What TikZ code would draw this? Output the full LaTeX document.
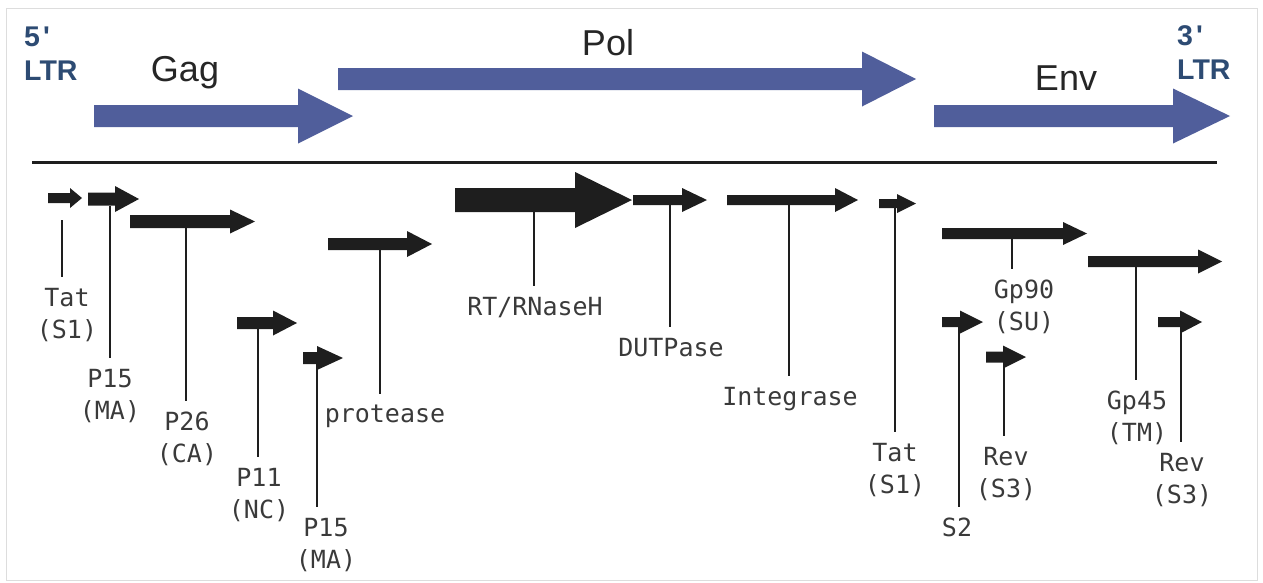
\documentclass[tikz,border=0pt]{standalone}
\usepackage{fontspec}
\setmainfont{Liberation Sans}
\newfontfamily\ltrfont{Liberation Sans}
\newfontfamily\labelfont{DejaVu Sans Mono}
\definecolor{genblue}{HTML}{505E9B}
\definecolor{ltrblue}{HTML}{2D4B73}
\definecolor{labgray}{HTML}{3A3A3A}
\definecolor{framegray}{HTML}{DDDDDD}
\definecolor{orfblack}{HTML}{1E1E1E}

\begin{document}
\begin{tikzpicture}[x=1pt,y=1pt,yscale=-1,xscale=1,
    genelabel/.style={anchor=north,inner xsep=0pt,inner ysep=11pt,align=center,text=labgray,font=\labelfont\fontsize{25}{32}\selectfont},
    leader/.style={line width=1.8,draw=orfblack},
    orf/.style={fill=orfblack},
    region/.style={fill=genblue},
    regname/.style={anchor=base,inner sep=0pt,text=black!85,font=\fontsize{36}{40}\selectfont},
    ltr/.style={anchor=north west,inner sep=0pt,align=left,text=ltrblue,font=\ltrfont\bfseries\fontsize{28.5}{34}\selectfont}]
    \useasboundingbox (0,0) rectangle (1263,582);
    \draw [framegray, line width=1]   (6,8) rectangle (1257,580) ;

    % gag / pol / env regions
    \fill [region]   (94,105) -- (298,105) -- (298,88.5) -- (353,116) -- (298,143.5) -- (298,127) -- (94,127) -- cycle ;
    \fill [region]   (338,68) -- (862,68) -- (862,51.5) -- (916,79) -- (862,106.5) -- (862,90) -- (338,90) -- cycle ;
    \fill [region]   (934,105) -- (1173,105) -- (1173,88.5) -- (1230,116) -- (1173,143.5) -- (1173,127) -- (934,127) -- cycle ;
    \node [regname] (gagname) at (185,81.5) {Gag};
    \node [regname] (polname) at (608,55) {Pol};
    \node [regname] (envname) at (1066,90.5) {Env};
    \node [ltr] (ltrleft) at (24,27) {5\hspace{3pt}'\\LTR};
    \node [ltr] (ltrright) at (1177,25) {3\hspace{3pt}'\\LTR};

    \draw [line width=3, orfblack]   (32,162) -- (1217,162) ;

    % gag products
    \fill [orf]   (48,193) -- (70,193) -- (70,188) -- (82,198) -- (70,208) -- (70,203) -- (48,203) -- cycle ;
    \fill [orf]   (88,192.5) -- (115,192.5) -- (115,186) -- (139,199) -- (115,212) -- (115,205.5) -- (88,205.5) -- cycle ;
    \fill [orf]   (130,215) -- (230,215) -- (230,209.5) -- (255,221.5) -- (230,233.5) -- (230,228) -- (130,228) -- cycle ;
    \fill [orf]   (237,317) -- (273,317) -- (273,310.5) -- (297,323) -- (273,335.5) -- (273,329) -- (237,329) -- cycle ;
    \fill [orf]   (303,352) -- (317,352) -- (317,346) -- (343,358) -- (317,370) -- (317,364) -- (303,364) -- cycle ;
    \fill [orf]   (328,238) -- (407,238) -- (407,231) -- (432,244) -- (407,257) -- (407,250) -- (328,250) -- cycle ;
    % pol products
    \fill [orf]   (455,188) -- (575,188) -- (575,172) -- (632,200) -- (575,228) -- (575,212) -- (455,212) -- cycle ;
    \fill [orf]   (633,195) -- (682,195) -- (682,188) -- (707,200) -- (682,212) -- (682,205) -- (633,205) -- cycle ;
    \fill [orf]   (727,195) -- (835,195) -- (835,188) -- (858,200) -- (835,212) -- (835,205) -- (727,205) -- cycle ;
    % env and accessory products
    \fill [orf]   (879,199) -- (897,199) -- (897,194) -- (916,203.5) -- (897,213) -- (897,208) -- (879,208) -- cycle ;
    \fill [orf]   (942,228) -- (1063,228) -- (1063,222) -- (1087,233.5) -- (1063,245) -- (1063,239) -- (942,239) -- cycle ;
    \fill [orf]   (1088,256) -- (1198,256) -- (1198,249.5) -- (1222,261.5) -- (1198,273.5) -- (1198,267) -- (1088,267) -- cycle ;
    \fill [orf]   (942,317) -- (960,317) -- (960,310.5) -- (983,322) -- (960,333.5) -- (960,327) -- (942,327) -- cycle ;
    \fill [orf]   (986,351.5) -- (1003,351.5) -- (1003,345.5) -- (1026,357) -- (1003,368.5) -- (1003,362.5) -- (986,362.5) -- cycle ;
    \fill [orf]   (1158,317) -- (1180,317) -- (1180,310.5) -- (1202,322) -- (1180,333.5) -- (1180,327) -- (1158,327) -- cycle ;

    % leader feet
    \coordinate (tatA) at (62,220);
    \coordinate (maA) at (110,205.5);
    \coordinate (ca) at (186,228);
    \coordinate (nc) at (258,329);
    \coordinate (maB) at (317,364);
    \coordinate (pr) at (380,250);
    \coordinate (rt) at (534,212);
    \coordinate (dut) at (670,205);
    \coordinate (in) at (789,205);
    \coordinate (tatB) at (895,208);
    \coordinate (su) at (1012,239);
    \coordinate (tm) at (1136,267);
    \coordinate (stwo) at (959,327);
    \coordinate (revA) at (1004,362.5);
    \coordinate (revB) at (1181,327);

    % labels
    \node [genelabel] (tatAlab) at (67,277) {Tat\\(S1)};
    \node [genelabel] (maAlab) at (110,358) {P15\\(MA)};
    \node [genelabel] (calab) at (187,401) {P26\\(CA)};
    \node [genelabel] (nclab) at (259,457) {P11\\(NC)};
    \node [genelabel] (maBlab) at (326,507) {P15\\(MA)};
    \node [genelabel] (prlab) at (385,394) {protease};
    \node [genelabel] (rtlab) at (535,286) {RT/RNaseH};
    \node [genelabel] (dutlab) at (671,327) {DUTPase};
    \node [genelabel] (inlab) at (790,376) {Integrase};
    \node [genelabel] (tatBlab) at (895,432) {Tat\\(S1)};
    \node [genelabel] (sulab) at (1024,269) {Gp90\\(SU)};
    \node [genelabel] (tmlab) at (1137,380) {Gp45\\(TM)};
    \node [genelabel] (stwolab) at (957,507) {S2};
    \node [genelabel] (revAlab) at (1006,436) {Rev\\(S3)};
    \node [genelabel] (revBlab) at (1182,442) {Rev\\(S3)};

    \draw [leader]   (tatA) -- (tatA |- tatAlab.north) ;
    \draw [leader]   (maA) -- (maA |- maAlab.north) ;
    \draw [leader]   (ca) -- (ca |- calab.north) ;
    \draw [leader]   (nc) -- (nc |- nclab.north) ;
    \draw [leader]   (maB) -- (maB |- maBlab.north) ;
    \draw [leader]   (pr) -- (pr |- prlab.north) ;
    \draw [leader]   (rt) -- (rt |- rtlab.north) ;
    \draw [leader]   (dut) -- (dut |- dutlab.north) ;
    \draw [leader]   (in) -- (in |- inlab.north) ;
    \draw [leader]   (tatB) -- (tatB |- tatBlab.north) ;
    \draw [leader]   (su) -- (su |- sulab.north) ;
    \draw [leader]   (tm) -- (tm |- tmlab.north) ;
    \draw [leader]   (stwo) -- (stwo |- stwolab.north) ;
    \draw [leader]   (revA) -- (revA |- revAlab.north) ;
    \draw [leader]   (revB) -- (revB |- revBlab.north) ;
  \end{tikzpicture}
\end{document}
